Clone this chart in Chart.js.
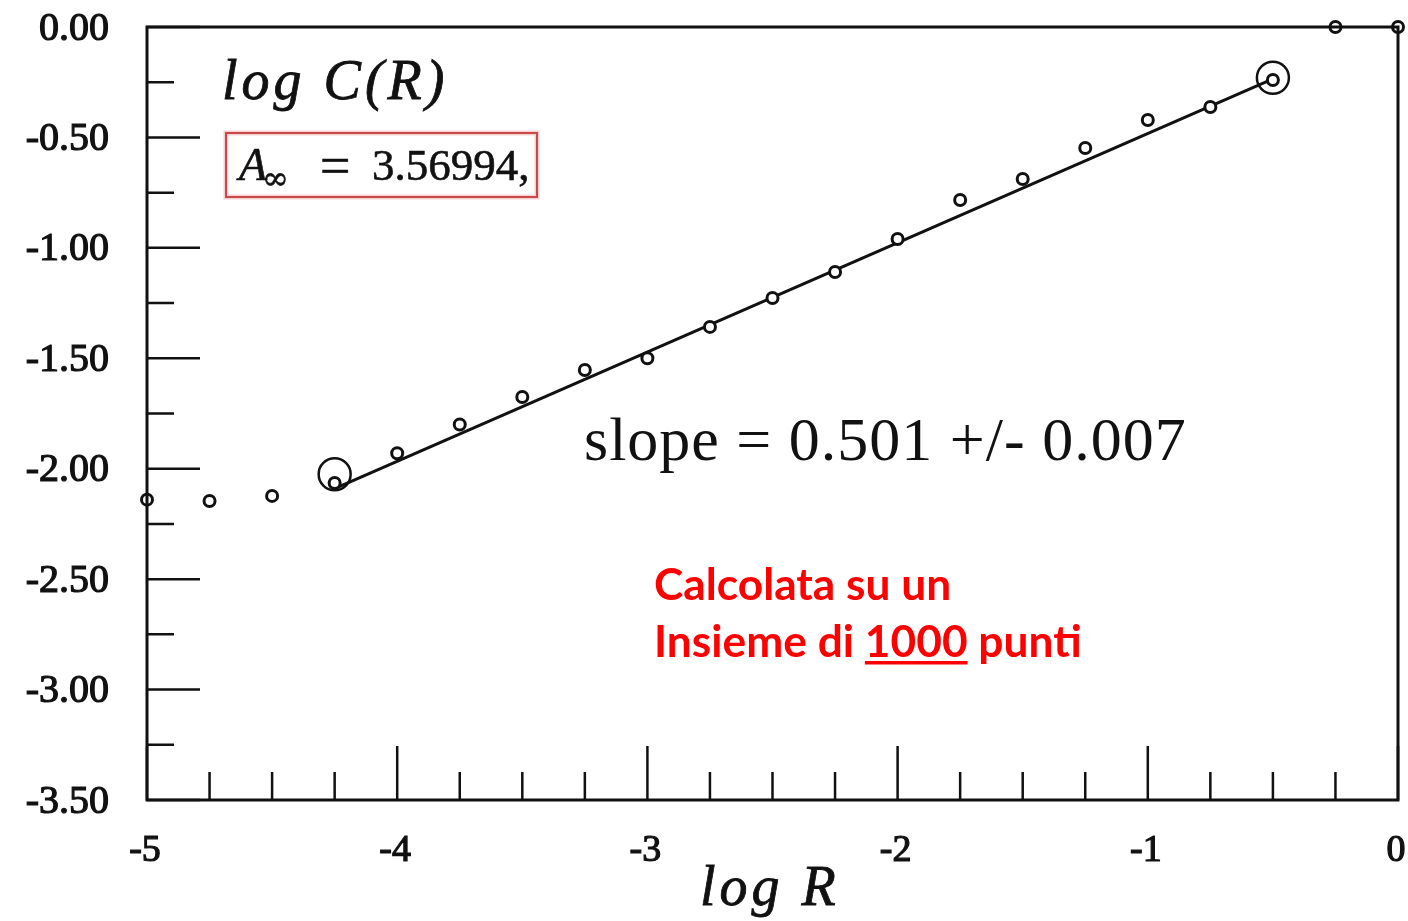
<!DOCTYPE html>
<html lang="it">
<head>
    <meta charset="UTF-8">
    <title>log C(R) vs log R</title>
    <style>
        body {
            margin: 0;
            background-color: #ffffff;
        }
        canvas {
            display: block;
        }
    </style>
    <script src="https://cdn.jsdelivr.net/npm/chart.js"></script>
</head>
<body>
    <canvas id="myChart" width="1408" height="921"></canvas>

    <script>
        // Data
        const logR = [-5, -4.75, -4.5, -4.25, -4, -3.75, -3.5, -3.25, -3, -2.75, -2.5,
                      -2.25, -2, -1.75, -1.5, -1.25, -1, -0.75, -0.5, -0.25, 0];
        const logC = [-2.14, -2.146, -2.123, -2.065, -1.93, -1.80, -1.675, -1.553, -1.50, -1.358, -1.227,
                      -1.109, -0.96, -0.783, -0.688, -0.548, -0.421, -0.362, -0.24, 0, 0];

        // fitted line end points and the two circled points
        const fitX = [-4.25, -0.5];
        const fitY = [-2.09, -0.235];
        const markX = [-4.25, -0.5];
        const markY = [-2.025, -0.23];

        // axis ticks
        const xMajor = [-5, -4, -3, -2, -1, 0];
        const xMinor = [-4.75, -4.5, -4.25, -3.75, -3.5, -3.25, -2.75, -2.5, -2.25,
                        -1.75, -1.5, -1.25, -0.75, -0.5, -0.25];
        const xTickLabels = ['-5', '-4', '-3', '-2', '-1', '0'];
        const yMajor = [0, -0.5, -1, -1.5, -2, -2.5, -3, -3.5];
        const yMinor = [-0.25, -0.75, -1.25, -1.75, -2.25, -2.75, -3.25];
        const yTickLabels = ['0.00', '-0.50', '-1.00', '-1.50', '-2.00', '-2.50', '-3.00', '-3.50'];

        const toPoints = (xs, ys) => xs.map((x, i) => ({ x: x, y: ys[i] }));

        // heavy text, like the scanned original
        function heavyText(ctx, text, x, y, w) {
            ctx.lineWidth = w;
            ctx.strokeStyle = ctx.fillStyle;
            ctx.strokeText(text, x, y);
            ctx.fillText(text, x, y);
        }

        // frame, inner ticks, tick labels and annotations
        const frameAndText = {
            id: 'frameAndText',
            afterDatasetsDraw(chart) {
                const ctx = chart.ctx;
                const area = chart.chartArea;
                const xs = chart.scales.x;
                const ys = chart.scales.y;
                ctx.save();

                ctx.strokeStyle = '#111';
                ctx.lineWidth = 3;
                ctx.strokeRect(area.left, area.top, area.right - area.left, area.bottom - area.top);

                ctx.lineWidth = 2.5;
                ctx.beginPath();
                yMajor.forEach(v => {
                    const py = ys.getPixelForValue(v);
                    ctx.moveTo(area.left, py);
                    ctx.lineTo(area.left + 53, py);
                });
                yMinor.forEach(v => {
                    const py = ys.getPixelForValue(v);
                    ctx.moveTo(area.left, py);
                    ctx.lineTo(area.left + 27, py);
                });
                xMajor.forEach(v => {
                    const px = xs.getPixelForValue(v);
                    ctx.moveTo(px, area.bottom);
                    ctx.lineTo(px, area.bottom - 54);
                });
                xMinor.forEach(v => {
                    const px = xs.getPixelForValue(v);
                    ctx.moveTo(px, area.bottom);
                    ctx.lineTo(px, area.bottom - 28);
                });
                ctx.stroke();

                // tick labels
                ctx.fillStyle = '#111';
                ctx.font = '40px "Liberation Serif"';
                ctx.textAlign = 'right';
                ctx.textBaseline = 'middle';
                yMajor.forEach((v, i) => {
                    heavyText(ctx, yTickLabels[i], area.left - 38, ys.getPixelForValue(v) + 2, 1.2);
                });
                ctx.textAlign = 'center';
                ctx.font = '38px "Liberation Serif"';
                xMajor.forEach((v, i) => {
                    heavyText(ctx, xTickLabels[i], xs.getPixelForValue(v) - 2, area.bottom + 51, 1.2);
                });

                // axis titles
                ctx.textBaseline = 'alphabetic';
                ctx.textAlign = 'left';
                ctx.font = 'italic 56px "Liberation Serif"';
                ctx.letterSpacing = '4px';
                heavyText(ctx, 'log C(R)', 222, 99, 0.8);
                heavyText(ctx, 'log R', 700, 905, 0.8);
                ctx.letterSpacing = '0px';

                // boxed constant
                ctx.fillStyle = '#fff';
                ctx.fillRect(226, 133, 311, 64);
                ctx.strokeStyle = 'rgba(230, 120, 120, 0.35)';
                ctx.lineWidth = 5;
                ctx.strokeRect(226, 133, 311, 64);
                ctx.strokeStyle = '#c94a4a';
                ctx.lineWidth = 2;
                ctx.strokeRect(226, 133, 311, 64);
                ctx.fillStyle = '#111';
                ctx.font = 'italic 46px "Liberation Serif"';
                heavyText(ctx, 'A', 239, 180, 0.6);
                ctx.font = '32px "DejaVu Serif"';
                heavyText(ctx, '\u221E', 262, 189, 0.6);
                ctx.font = '54px "Liberation Serif"';
                heavyText(ctx, '=', 320, 184, 0.6);
                ctx.font = '45px "Liberation Serif"';
                heavyText(ctx, '3.56994,', 372, 180, 0.6);

                // slope
                ctx.font = '62px "Liberation Serif"';
                ctx.letterSpacing = '1px';
                ctx.fillText('slope = 0.501 +/- 0.007', 584, 460);
                ctx.letterSpacing = '0px';

                // red note, sized to the width of the original lines
                ctx.fillStyle = '#ff0000';
                const pre = 'Insieme di ';
                const num = '1000';
                const line2 = pre + num + ' punti';
                ctx.font = 'bold 40px Lato';
                const size = 40 * 428 / ctx.measureText(line2).width;
                ctx.font = 'bold ' + size.toFixed(1) + 'px Lato';
                ctx.fillText('Calcolata su un', 654, 600);
                ctx.fillText(line2, 654, 657);
                const ux = 654 + ctx.measureText(pre).width;
                const uw = ctx.measureText(num).width;
                ctx.fillRect(ux, 661, uw, 3.5);

                ctx.restore();
            }
        };

        const ctx = document.getElementById('myChart').getContext('2d');
        new Chart(ctx, {
            type: 'scatter',
            data: {
                datasets: [
                    {
                        label: 'fit',
                        data: toPoints(fitX, fitY),
                        showLine: true,
                        borderColor: '#111',
                        borderWidth: 3,
                        pointRadius: 0,
                        clip: false,
                        order: 3
                    },
                    {
                        label: 'log C(R)',
                        data: toPoints(logR, logC),
                        showLine: false,
                        borderColor: '#111',
                        backgroundColor: '#fff',
                        pointRadius: 5.5,
                        pointBorderWidth: 3,
                        clip: false,
                        order: 2
                    },
                    {
                        label: 'marks',
                        data: toPoints(markX, markY),
                        showLine: false,
                        borderColor: '#111',
                        backgroundColor: 'rgba(0,0,0,0)',
                        pointRadius: 16,
                        pointBorderWidth: 2.5,
                        clip: false,
                        order: 1
                    }
                ]
            },
            options: {
                responsive: false,
                animation: false,
                layout: {
                    autoPadding: false,
                    padding: { left: 147, right: 10, top: 27, bottom: 121 }
                },
                plugins: {
                    legend: { display: false },
                    tooltip: { enabled: false }
                },
                scales: {
                    x: { type: 'linear', min: -5, max: 0, display: false },
                    y: { type: 'linear', min: -3.5, max: 0, display: false }
                }
            },
            plugins: [frameAndText]
        });
    </script>
</body>
</html>
